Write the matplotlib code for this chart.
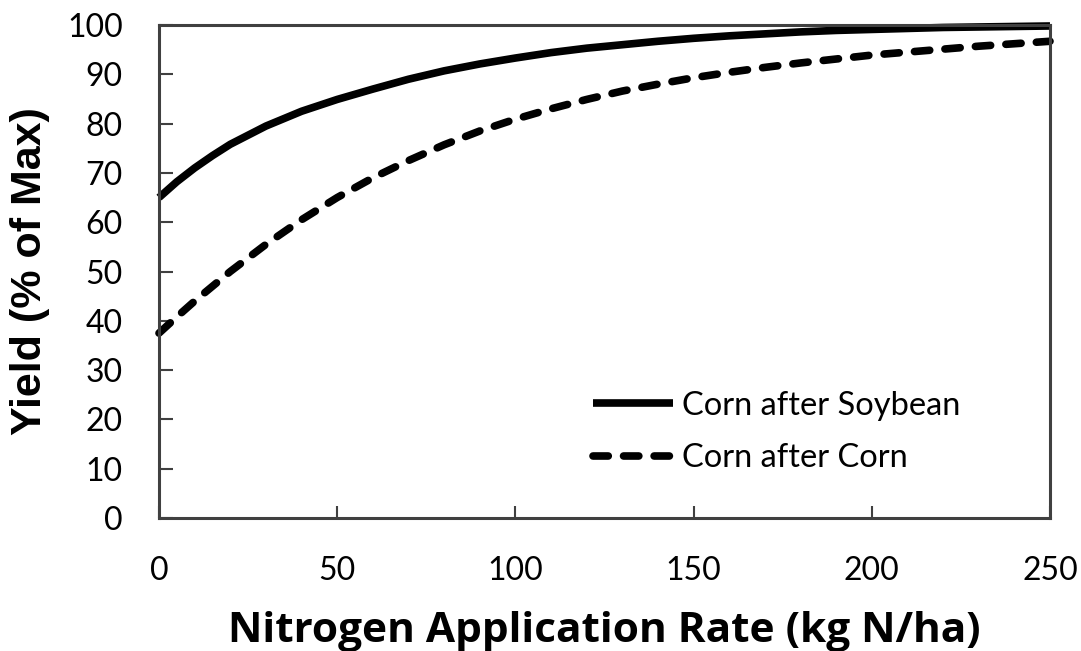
import matplotlib
matplotlib.use('Agg')
from matplotlib import pyplot as plt

# 数据
n_rate = [0, 5, 10, 15, 20, 30, 40, 50, 60, 70, 80, 90, 100, 110, 120, 130, 140,
          150, 160, 170, 180, 190, 200, 210, 220, 230, 240, 250]
yield_soy = [65.0, 68.2, 71.0, 73.5, 75.8, 79.5, 82.5, 84.9, 87.0, 89.0, 90.7,
             92.1, 93.3, 94.4, 95.3, 96.0, 96.7, 97.3, 97.8, 98.2, 98.6, 98.9,
             99.1, 99.3, 99.5, 99.6, 99.7, 99.8]
yield_corn = [37.5, 40.8, 44.0, 47.0, 50.0, 55.5, 60.5, 65.0, 69.0, 72.5, 75.7,
              78.5, 80.9, 83.0, 84.9, 86.6, 88.0, 89.3, 90.4, 91.4, 92.3, 93.1,
              93.9, 94.5, 95.1, 95.7, 96.2, 96.7]
labels = ['Corn after Soybean', 'Corn after Corn']
x_ticks = [0, 50, 100, 150, 200, 250]
y_ticks = list(range(0, 101, 10))

tick_font = 'Lato'
fig = plt.figure(figsize=(10.81, 6.51), dpi=100)
ax = fig.add_axes([159/1081, 1-518/651, 891/1081, 493/651])

ax.plot(n_rate, yield_soy, c='k', lw=5.5, label=labels[0], clip_on=False,
        solid_capstyle='butt')
ax.plot(n_rate, yield_corn, c='k', lw=5.5, ls=(0, (2, 2)), label=labels[1],
        dash_capstyle='round', clip_on=False)

ax.set_xlim(0, 250)
ax.set_ylim(0, 100)
ax.set_xticks(x_ticks)
ax.set_yticks(y_ticks)
for s in ax.spines.values():
    s.set_color('#404040')
    s.set_linewidth(2.2)
ax.tick_params(axis='y', direction='in', length=10, width=1.5, color='#404040',
               pad=26, labelsize=23)
ax.tick_params(axis='x', direction='in', length=9, width=1.5, color='#404040',
               pad=27, labelsize=23)
for t in ax.get_xticklabels() + ax.get_yticklabels():
    t.set_family(tick_font)

ax.set_xlabel('Nitrogen Application Rate (kg N/ha)', family='Open Sans',
              fontweight='bold', fontsize=30.5, labelpad=18)
ax.set_ylabel('Yield (% of Max)', family='Liberation Sans', fontweight='bold',
              fontsize=31, labelpad=12)

ax.legend(loc='center left', bbox_to_anchor=((593-159)/891, (518-432)/493),
          frameon=False, prop={'family': tick_font, 'size': 23.5},
          handlelength=2.45, handletextpad=0.27, labelspacing=0.68,
          borderpad=0, borderaxespad=0)

plt.savefig('out.png', dpi=100)
